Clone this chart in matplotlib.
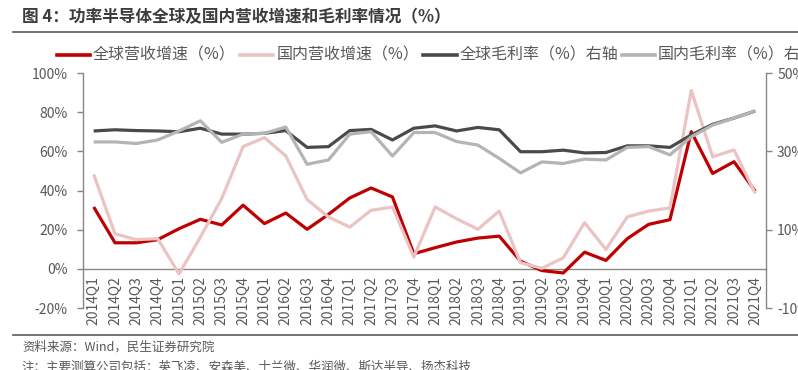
import matplotlib
matplotlib.use('Agg')
import matplotlib.pyplot as plt
from matplotlib.lines import Line2D

plt.rcParams['font.family'] = ['Noto Sans CJK SC', 'DejaVu Sans']

quarters = ['2014Q1', '2014Q2', '2014Q3', '2014Q4', '2015Q1', '2015Q2', '2015Q3', '2015Q4',
            '2016Q1', '2016Q2', '2016Q3', '2016Q4', '2017Q1', '2017Q2', '2017Q3', '2017Q4',
            '2018Q1', '2018Q2', '2018Q3', '2018Q4', '2019Q1', '2019Q2', '2019Q3', '2019Q4',
            '2020Q1', '2020Q2', '2020Q3', '2020Q4', '2021Q1', '2021Q2', '2021Q3', '2021Q4']

global_rev = [31.6, 13.3, 13.3, 14.9, 20.5, 25.3, 22.4, 32.5,
              23.1, 28.5, 20.2, 27.8, 36.2, 41.3, 36.7, 7.7,
              10.8, 13.7, 15.7, 16.7, 3.9, -0.9, -2.1, 8.5,
              4.3, 15.4, 22.7, 25.1, 70.0, 48.7, 54.7, 39.6]

domestic_rev = [48.2, 17.9, 14.9, 15.4, -2.6, 16.2, 35.9, 62.4,
                67.0, 57.7, 35.4, 26.5, 21.3, 29.9, 31.6, 6.0,
                31.6, 25.6, 20.2, 29.5, 3.1, 0.3, 5.6, 23.6,
                9.9, 26.5, 29.5, 31.1, 91.1, 57.2, 60.7, 38.5]

global_margin = [35.2, 35.5, 35.3, 35.2, 35.0, 35.9, 34.4, 34.4,
                 34.6, 35.3, 31.0, 31.2, 35.3, 35.6, 32.9, 35.9,
                 36.5, 35.2, 36.1, 35.5, 29.9, 29.9, 30.3, 29.6,
                 29.7, 31.4, 31.4, 31.0, 34.2, 36.9, 38.5, 40.3]

domestic_margin = [32.4, 32.4, 32.0, 32.9, 35.2, 37.8, 32.3, 34.4,
                   34.6, 36.2, 26.7, 27.8, 34.4, 35.0, 28.8, 34.8,
                   34.8, 32.5, 31.6, 28.2, 24.5, 27.3, 26.9, 28.0,
                   27.8, 31.0, 31.2, 29.1, 33.7, 36.7, 38.5, 40.3]

left_ticks = [-20, 0, 20, 40, 60, 80, 100]
right_ticks = [-10, 10, 30, 50]

legend_labels = ['全球营收增速（%）', '国内营收增速（%）', '全球毛利率（%）右轴', '国内毛利率（%）右轴']
title = '图 4：功率半导体全球及国内营收增速和毛利率情况（%）'
source = '资料来源：Wind，民生证券研究院'
note = '注：主要测算公司包括：英飞凌、安森美、士兰微、华润微、斯达半导、扬杰科技'

c_red = '#C00000'
c_pink = '#EBC3C3'
c_dark = '#4A4A4A'
c_light = '#B4B4B4'
c_text = '#595959'
c_axis = '#868686'

W, H = 798, 370
fig = plt.figure(figsize=(W / 100, H / 100), dpi=100)
ax = fig.add_axes([83 / W, 1 - 308 / H, (766 - 83) / W, (308 - 73) / H])

x = list(range(len(quarters)))
ax.plot(x, global_rev, color=c_red, lw=2.3, solid_capstyle='butt', zorder=3)
ax.plot(x, domestic_rev, color=c_pink, lw=2.3, solid_capstyle='butt', zorder=4)
for s in ['top', 'right']:
    ax.spines[s].set_visible(False)
ax.spines['bottom'].set_position(('data', 0))
ax.spines['bottom'].set_color(c_axis)
ax.spines['left'].set_color(c_axis)
ax.spines['bottom'].set_linewidth(1.0)
ax.spines['left'].set_linewidth(1.0)
ax.set_xlim(-0.5, len(quarters) - 0.5)
ax.set_ylim(-20, 100)
ax.set_yticks(left_ticks)
ax.set_yticklabels([f'{v}%' for v in left_ticks])
ax.set_xticks(x)
ax.set_xticklabels(quarters)
ax.tick_params(axis='y', direction='out', length=4, width=1, color=c_axis,
               labelcolor=c_text, labelsize=10, pad=7)
ax.tick_params(axis='x', length=0, labelcolor=c_text, labelsize=10, pad=5,
               labelrotation=90)

ax2 = ax.twinx()
ax2.plot(x, global_margin, color=c_dark, lw=2.3, solid_capstyle='butt')
ax2.plot(x, domestic_margin, color=c_light, lw=2.3, solid_capstyle='butt')
ax2.set_ylim(-10, 50)
ax2.set_yticks(right_ticks)
ax2.set_yticklabels([f'{v}%' for v in right_ticks])
for s in ['top', 'left', 'bottom']:
    ax2.spines[s].set_visible(False)
ax2.spines['right'].set_color(c_axis)
ax2.spines['right'].set_linewidth(1.0)
ax2.tick_params(axis='y', direction='out', length=4, width=1, color=c_axis,
                labelcolor=c_text, labelsize=10, pad=4)

# Title and rules
fig.text(22 / W, 1 - 17 / H, title, fontsize=12, fontweight='bold', color='#3C3C3C', va='center')
fig.add_artist(Line2D([13 / W, 1], [1 - 32 / H] * 2, color='#5a5a5a', lw=1.2))
fig.add_artist(Line2D([13 / W, 1], [1 - 335 / H] * 2, color='#5a5a5a', lw=1.2))

# Legend (manual)
leg_y = 1 - 55 / H
handles = [(57, 90, 93), (240, 273, 277), (423, 457, 460), (622, 655, 658)]
colors = [c_red, c_pink, c_dark, c_light]
for (x0, x1, tx), col, lab in zip(handles, colors, legend_labels):
    fig.add_artist(Line2D([x0 / W, x1 / W], [leg_y, leg_y], color=col, lw=2.6))
    fig.text(tx / W, leg_y, lab, fontsize=11.5, color=c_text, va='center', ha='left')

fig.text(22 / W, 1 - 347 / H, source, fontsize=9, color=c_text, va='center')
fig.text(22 / W, 1 - 367 / H, note, fontsize=9, color=c_text, va='center')

fig.savefig('out.png', dpi=100)
